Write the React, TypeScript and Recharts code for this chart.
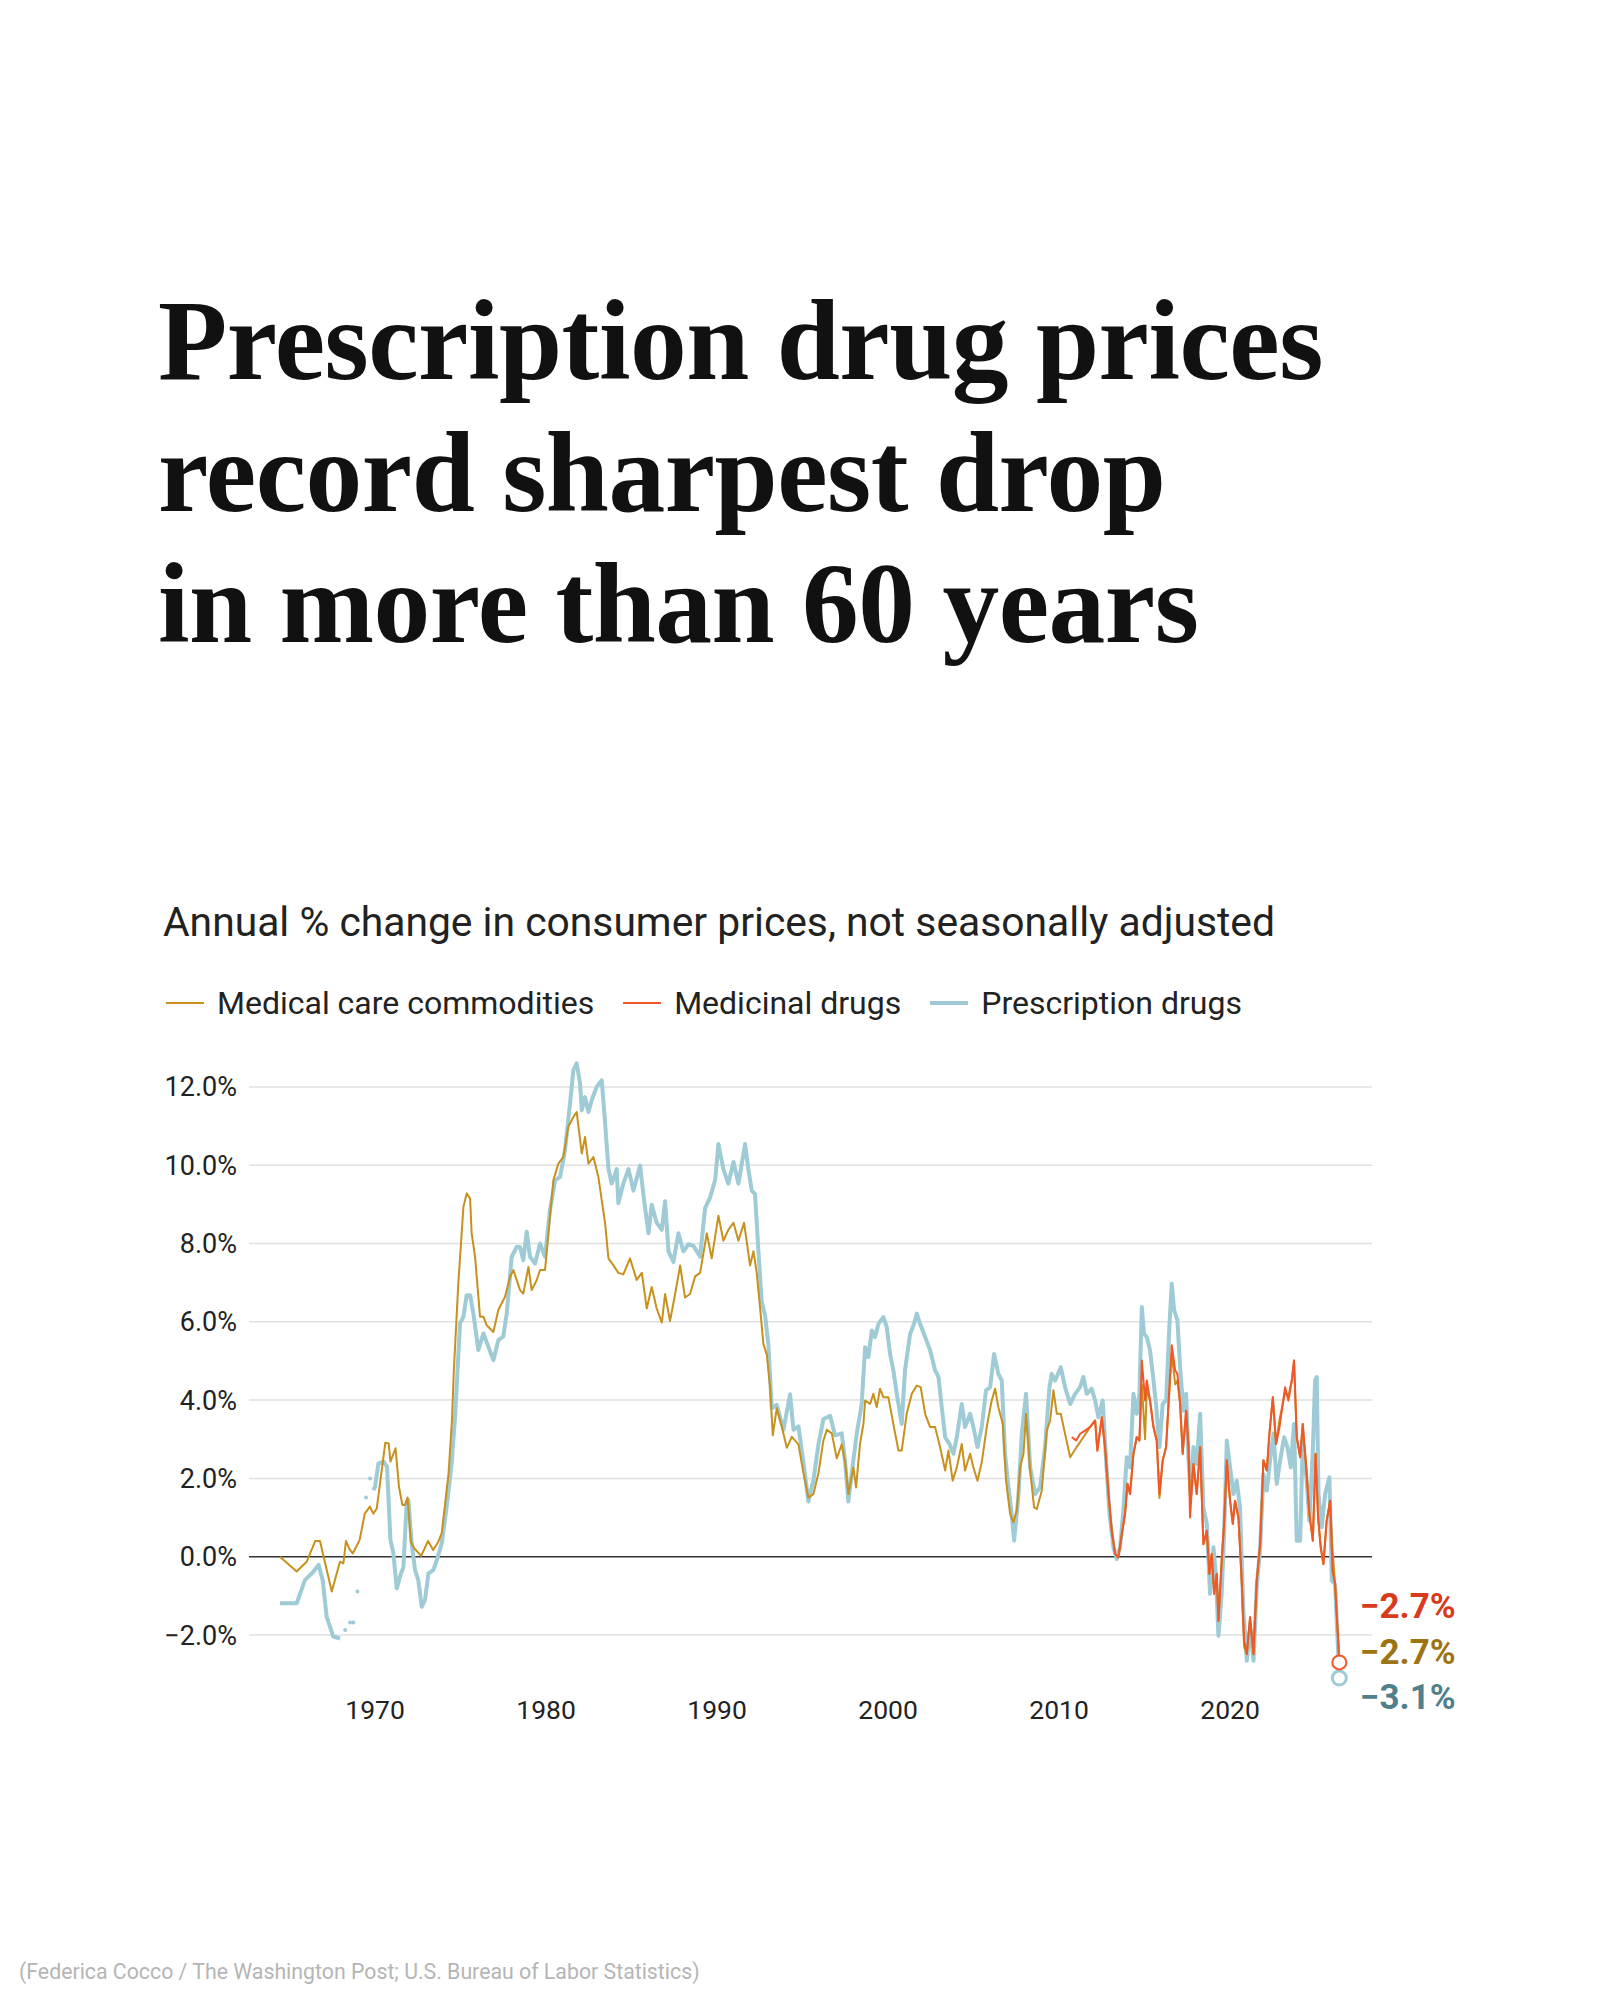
import React from "react";
import { LineChart, Line, XAxis, YAxis, ReferenceLine, ReferenceDot } from "recharts";

// ---------- DATA ----------
const commoditiesYears = [
  1964.44, 1965.42, 1966.0, 1966.5, 1966.78, 1967.47, 1967.95, 1968.15, 1968.3, 1968.5, 1968.7, 1969.1, 1969.4, 1969.7, 1969.9,
  1970.1, 1970.6, 1970.8, 1970.9, 1971.2, 1971.4, 1971.6, 1971.75, 1971.9, 1972.1, 1972.3, 1972.7, 1973.1, 1973.4, 1973.7, 1973.9,
  1974.03, 1974.3, 1974.5, 1974.6, 1974.87, 1975.17, 1975.36, 1975.56, 1975.65, 1975.85, 1976.14, 1976.34, 1976.53, 1976.92,
  1977.21, 1977.6, 1977.9, 1978.09, 1978.48, 1978.67, 1978.97, 1979.16, 1979.45, 1979.65, 1979.94, 1980.14, 1980.43, 1980.72,
  1981.01, 1981.3, 1981.6, 1981.79, 1982.09, 1982.28, 1982.48, 1982.77, 1983.06,
  1983.45, 1983.65, 1983.94, 1984.23, 1984.52, 1984.91, 1985.3, 1985.6, 1985.89, 1986.18, 1986.47, 1986.77, 1986.96, 1987.25,
  1987.55, 1987.84, 1988.13, 1988.42, 1988.72, 1989.01, 1989.4, 1989.69, 1990.08, 1990.37, 1990.66, 1990.96, 1991.25, 1991.58,
  1991.93, 1992.13, 1992.32, 1992.52, 1992.71, 1992.91, 1993.1, 1993.26, 1993.49, 1993.78, 1994.08, 1994.37, 1994.76, 1995.05,
  1995.34, 1995.64, 1995.93, 1996.22, 1996.42, 1996.71, 1997.0, 1997.29, 1997.49, 1997.68,
  1997.97, 1998.13, 1998.36, 1998.56, 1998.66, 1998.95, 1999.14, 1999.34, 1999.53, 1999.73, 2000.02, 2000.31, 2000.61, 2000.8,
  2001.09, 2001.39, 2001.68, 2001.91, 2002.17, 2002.46, 2002.75, 2003.04, 2003.34, 2003.53, 2003.78, 2004.02, 2004.31, 2004.5,
  2004.8, 2004.99, 2005.23, 2005.48, 2005.77, 2006.06, 2006.26, 2006.45, 2006.71, 2006.9, 2007.14, 2007.33, 2007.53, 2007.72,
  2007.92, 2008.07, 2008.31, 2008.54, 2008.7, 2008.99, 2009.28, 2009.48, 2009.67, 2009.87, 2010.1, 2010.35, 2010.65, 2011.03,
  2011.42, 2011.81, 2012.11,
  2012.24, 2012.5, 2012.69, 2012.89, 2013.08, 2013.28, 2013.47, 2013.67, 2013.86, 2014.0, 2014.15, 2014.35, 2014.54, 2014.7,
  2014.84, 2015.03, 2015.13, 2015.32, 2015.52, 2015.71, 2015.87, 2016.06, 2016.26, 2016.4, 2016.59, 2016.79, 2016.92, 2017.08,
  2017.23, 2017.43, 2017.57, 2017.66, 2017.86, 2018.05, 2018.25, 2018.44, 2018.64, 2018.79, 2018.93, 2019.07, 2019.22, 2019.32,
  2019.51, 2019.65, 2019.81, 2020.0, 2020.16, 2020.29, 2020.49, 2020.68, 2020.82, 2020.98, 2021.17, 2021.37, 2021.56, 2021.76,
  2021.95, 2022.15, 2022.3, 2022.5, 2022.69, 2022.89, 2023.08, 2023.22, 2023.41, 2023.61, 2023.74, 2023.9, 2024.1, 2024.25,
  2024.45, 2024.64, 2024.84, 2025.0, 2025.15, 2025.3, 2025.46, 2025.65, 2025.85, 2025.99, 2026.14, 2026.39,
];
const commoditiesValues = [
  0.0, -0.38, -0.13, 0.4, 0.4, -0.89, -0.13, -0.17, 0.4, 0.2, 0.08, 0.43, 1.1, 1.28, 1.1,
  1.23, 2.91, 2.89, 2.43, 2.77, 1.79, 1.32, 1.32, 1.51, 0.38, 0.21, 0.02, 0.4, 0.17, 0.38, 0.6,
  1.1, 2.13, 3.49, 4.68, 6.98, 8.94, 9.28, 9.15, 8.26, 7.66, 6.13, 6.13, 5.91, 5.74,
  6.3, 6.64, 7.15, 7.32, 6.81, 6.72, 7.4, 6.81, 7.06, 7.32, 7.32, 8.26, 9.62, 10.04,
  10.21, 10.98, 11.23, 11.36, 10.3, 10.72, 10.04, 10.21, 9.7,
  8.53, 7.62, 7.44, 7.25, 7.21, 7.62, 7.07, 7.25, 6.34, 6.89, 6.34, 5.98, 6.71, 6.02,
  6.71, 7.44, 6.62, 6.71, 7.16, 7.25, 8.26, 7.62, 8.71, 8.07, 8.35, 8.53, 8.07, 8.53,
  7.44, 7.8, 7.25, 6.34, 5.43, 5.16, 4.33, 3.1, 3.79, 3.33, 2.78, 3.06, 2.87, 2.14,
  1.51, 1.6, 2.14, 2.97, 3.24, 3.15, 2.51, 2.87, 2.42, 1.6,
  2.28, 1.77, 2.88, 3.39, 3.99, 3.9, 4.16, 3.82, 4.29, 4.07, 4.07, 3.39, 2.71, 2.71,
  3.65, 4.16, 4.37, 4.33, 3.65, 3.31, 3.31, 2.8, 2.2, 2.71, 1.94, 2.28, 2.88, 2.2,
  2.63, 2.28, 1.94, 2.41, 3.31, 3.99, 4.29, 3.82, 3.39, 1.94, 1.09, 0.88, 1.18, 2.28,
  2.63, 3.65, 2.2, 1.26, 1.22, 1.69, 3.22, 3.48, 4.25, 3.65, 3.65, 3.14, 2.54, 2.8,
  3.05, 3.31, 3.48,
  2.71, 3.56, 2.8, 1.6, 0.66, 0.07, -0.02, 0.58, 1.09, 1.86, 1.6, 2.63, 3.05, 2.97,
  4.4, 3.0, 4.3, 3.99, 3.31, 2.97, 1.5, 2.46, 2.8, 3.9, 5.2, 4.4, 4.5, 3.9,
  2.63, 3.73, 2.8, 1.5, 2.37, 1.6, 2.8, 0.32, 0.66, -0.44, 0.07, -0.95, -0.44, -1.64,
  -0.1, 0.84, 2.46, 1.43, 0.84, 1.43, 1.0, -0.61, -2.3, -2.49, -1.55, -2.49, -0.61, 0.32,
  2.46, 2.2, 3.14, 4.07, 2.88, 3.5, 3.9, 4.2, 4.1, 4.5, 5.01, 3.05, 2.54, 3.39,
  2.28, 1.09, 0.41, 2.63, 1.0, 0.24, -0.19, 0.92, 1.43, 0.2, -0.7, -2.7,
];

const medicinalYears = [
  2010.74, 2011.0, 2011.23, 2011.52, 2011.81, 2012.11,
  2012.24, 2012.5, 2012.69, 2012.89, 2013.08, 2013.28, 2013.47, 2013.67, 2013.86, 2014.0, 2014.15, 2014.35, 2014.54, 2014.7,
  2014.84, 2015.03, 2015.13, 2015.32, 2015.52, 2015.71, 2015.87, 2016.06, 2016.26, 2016.4, 2016.59, 2016.79, 2016.92, 2017.08,
  2017.23, 2017.43, 2017.57, 2017.66, 2017.86, 2018.05, 2018.25, 2018.44, 2018.64, 2018.79, 2018.93, 2019.07, 2019.22, 2019.32,
  2019.51, 2019.65, 2019.81, 2020.0, 2020.16, 2020.29, 2020.49, 2020.68, 2020.82, 2020.98, 2021.17, 2021.37, 2021.56, 2021.76,
  2021.95, 2022.15, 2022.3, 2022.5, 2022.69, 2022.89, 2023.08, 2023.22, 2023.41, 2023.61, 2023.74, 2023.9, 2024.1, 2024.25,
  2024.45, 2024.64, 2024.84, 2025.0, 2025.15, 2025.3, 2025.46, 2025.65, 2025.85, 2025.99, 2026.14, 2026.39,
];
const medicinalValues = [
  3.05, 2.97, 3.14, 3.22, 3.31, 3.48,
  2.71, 3.56, 2.8, 1.6, 0.66, 0.07, -0.02, 0.58, 1.09, 1.86, 1.6, 2.63, 3.05, 2.97,
  5.01, 3.99, 4.5, 3.99, 3.31, 2.97, 1.6, 2.46, 2.8, 3.9, 5.4, 4.76, 4.67, 3.9,
  2.63, 3.73, 2.8, 1.0, 2.37, 1.6, 2.8, 0.32, 0.66, -0.44, 0.07, -0.95, -0.44, -1.64,
  -0.1, 0.84, 2.46, 1.43, 0.84, 1.43, 1.0, -0.61, -2.15, -2.49, -1.55, -2.49, -0.61, 0.32,
  2.46, 2.2, 3.14, 4.07, 2.88, 3.31, 3.9, 4.33, 3.99, 4.5, 5.01, 3.05, 2.54, 3.39,
  2.28, 1.09, 0.41, 2.63, 1.0, 0.24, -0.19, 0.92, 1.43, -0.36, -0.7, -2.7,
];

const prescriptionYears = [
  1964.44, 1965.42, 1965.9, 1966.4, 1966.7, 1966.94, 1967.17, 1967.56, 1967.95,
  1968.1, 1968.25, 1968.4, 1968.54, 1968.63, 1968.73, 1968.85, 1968.97, 1969.2, 1969.47, 1969.6, 1969.71, 1969.8,
  1969.9, 1970.0, 1970.2, 1970.5, 1970.7, 1970.9, 1971.07, 1971.27, 1971.46, 1971.66, 1971.85, 1971.95, 1972.14, 1972.34,
  1972.53, 1972.73, 1972.92, 1973.12, 1973.41, 1973.61, 1973.9, 1974.19, 1974.48, 1974.68, 1974.97, 1975.17, 1975.36, 1975.56,
  1975.75, 1976.04, 1976.34, 1976.63, 1976.92, 1977.21, 1977.5, 1977.7, 1977.99, 1978.28, 1978.48, 1978.67, 1978.87, 1979.06,
  1979.36, 1979.65, 1979.94, 1980.23, 1980.53, 1980.82, 1981.11, 1981.4, 1981.6, 1981.79, 1981.99, 1982.09, 1982.28, 1982.48,
  1982.67, 1982.96, 1983.26, 1983.45, 1983.65,
  1983.84, 1984.13, 1984.23, 1984.52, 1984.82, 1985.11, 1985.5, 1985.69, 1985.99, 1986.18, 1986.47, 1986.77, 1986.96, 1987.16,
  1987.45, 1987.74, 1988.03, 1988.33, 1988.62, 1989.01, 1989.3, 1989.59, 1989.89, 1990.08, 1990.37, 1990.66, 1990.96, 1991.25,
  1991.64, 1991.83, 1992.03, 1992.22, 1992.42, 1992.61, 1992.81, 1993.0, 1993.2, 1993.49, 1993.88, 1994.27, 1994.47, 1994.76,
  1995.05, 1995.34, 1995.64, 1995.93, 1996.22, 1996.61, 1996.9, 1997.29, 1997.49, 1997.68,
  1997.97, 1998.17, 1998.46, 1998.66, 1998.85, 1999.05, 1999.24, 1999.44, 1999.73, 1999.92, 2000.12, 2000.31, 2000.51, 2000.7,
  2000.8, 2000.99, 2001.29, 2001.52, 2001.68, 2001.87, 2002.17, 2002.46, 2002.75, 2002.95, 2003.14, 2003.34, 2003.59, 2003.82,
  2004.02, 2004.31, 2004.5, 2004.8, 2004.99, 2005.23, 2005.48, 2005.73, 2005.97, 2006.2, 2006.45, 2006.65, 2006.84, 2007.04,
  2007.23, 2007.37, 2007.62, 2007.82, 2008.07, 2008.31, 2008.6, 2008.89, 2009.18, 2009.44, 2009.57, 2009.77, 2010.1, 2010.35,
  2010.65, 2010.94,
  2011.23, 2011.42, 2011.62, 2011.91, 2012.11, 2012.3, 2012.55, 2012.75, 2012.95, 2013.18, 2013.37, 2013.57, 2013.76, 2013.96,
  2014.15, 2014.35, 2014.54, 2014.7, 2014.84, 2014.97, 2015.13, 2015.32, 2015.48, 2015.67, 2015.87, 2016.06, 2016.26, 2016.45,
  2016.59, 2016.73, 2016.92, 2017.08, 2017.27, 2017.43, 2017.57, 2017.7, 2017.86, 2018.05, 2018.25, 2018.44, 2018.64, 2018.83,
  2019.03, 2019.18, 2019.32, 2019.51, 2019.65, 2019.81, 2020.0, 2020.2, 2020.39, 2020.58, 2020.78, 2020.98, 2021.17, 2021.37,
  2021.56, 2021.76, 2021.95, 2022.15, 2022.34, 2022.54, 2022.73, 2022.93, 2023.16, 2023.36, 2023.55, 2023.74, 2023.9, 2024.1,
  2024.25, 2024.45, 2024.64, 2024.84, 2024.97, 2025.07, 2025.17, 2025.36, 2025.56, 2025.81, 2025.95, 2026.14, 2026.39,
];
const prescriptionValues: (number | null)[] = [
  -1.19, -1.19, -0.6, -0.38, -0.21, -0.6, -1.53, -2.04, -2.09,
  null, -1.87, null, -1.68, null, -1.68, null, -0.89, null, 1.51, null, 2.0, null,
  1.7, 1.79, 2.38, 2.43, 2.3, 0.43, 0.09, -0.81, -0.51, -0.26, 1.36, 1.45, 0.34, -0.34,
  -0.6, -1.28, -1.11, -0.43, -0.34, -0.09, 0.34, 1.28, 2.38, 3.57, 5.96, 6.13, 6.68, 6.68,
  6.21, 5.28, 5.7, 5.36, 5.02, 5.53, 5.62, 6.21, 7.66, 7.91, 7.91, 7.57, 8.3, 7.66,
  7.49, 8.0, 7.66, 8.85, 9.62, 9.7, 10.38, 11.57, 12.43, 12.6, 12.09, 11.4, 11.74, 11.36,
  11.66, 12.0, 12.17, 11.09, 9.9,
  9.53, 9.9, 9.03, 9.53, 9.9, 9.35, 9.99, 9.26, 8.26, 8.99, 8.53, 8.35, 9.08, 7.8,
  7.53, 8.26, 7.8, 7.98, 7.94, 7.66, 8.9, 9.17, 9.63, 10.54, 9.9, 9.53, 10.08, 9.53,
  10.54, 9.9, 9.35, 9.26, 7.8, 6.52, 6.16, 5.43, 3.79, 3.88, 3.24, 4.15, 3.24, 3.33,
  2.42, 1.41, 1.96, 2.87, 3.51, 3.6, 3.1, 3.15, 2.42, 1.41,
  2.46, 3.14, 3.9, 5.35, 5.1, 5.78, 5.61, 5.95, 6.12, 5.87, 5.18, 4.76, 4.16, 3.65,
  3.39, 4.76, 5.69, 5.95, 6.21, 5.95, 5.61, 5.27, 4.76, 4.59, 3.82, 3.05, 2.88, 2.63,
  3.05, 3.9, 3.31, 3.65, 3.31, 2.8, 3.31, 4.25, 4.33, 5.18, 4.67, 4.5, 2.63, 1.77,
  1.09, 0.41, 1.52, 3.14, 4.16, 2.28, 1.6, 1.77, 2.8, 4.33, 4.67, 4.5, 4.84, 4.33,
  3.9, 4.16,
  4.33, 4.59, 4.16, 4.29, 3.99, 3.56, 3.99, 2.46, 1.09, 0.24, -0.06, 0.24, 1.18, 2.54,
  2.28, 4.16, 3.65, 4.16, 6.38, 5.69, 5.61, 5.27, 4.67, 3.9, 2.8, 3.9, 3.99, 5.87,
  6.97, 6.29, 6.04, 4.84, 3.73, 4.16, 2.46, 1.6, 2.8, 2.37, 3.65, 1.26, 0.84, -0.95,
  0.24, -0.53, -2.02, -0.95, 0.58, 2.97, 2.28, 1.6, 1.94, 1.26, -1.38, -2.66, -1.81, -2.66,
  -0.78, 0.24, 2.11, 1.69, 2.46, 3.14, 1.86, 2.46, 3.05, 2.8, 2.28, 3.39, 0.41, 0.41,
  2.97, 2.11, 0.92, 2.71, 4.5, 4.59, 1.6, 0.75, 1.6, 2.03, -0.61, -0.7, -3.1,
];

const yTicks = [-2, 0, 2, 4, 6, 8, 10, 12];
const xTicks = [1970, 1980, 1990, 2000, 2010, 2020];

const titleLines = ["Prescription drug prices", "record sharpest drop", "in more than 60 years"];
const subtitle = "Annual % change in consumer prices, not seasonally adjusted";
const legendItems = [
  { name: "Medical care commodities", key: "commodities" },
  { name: "Medicinal drugs", key: "medicinal" },
  { name: "Prescription drugs", key: "prescription" },
];
const endLabels = [
  { text: "\u22122.7%", key: "medicinal" },
  { text: "\u22122.7%", key: "commodities" },
  { text: "\u22123.1%", key: "prescription" },
];
const credit = "(Federica Cocco / The Washington Post; U.S. Bureau of Labor Statistics)";

// ---------- STYLE ----------
const GOLD = "#c8901c";
const RED = "#f0582a";
const BLUE = "#9ecbd5";
const lineColors: Record<string, string> = { commodities: GOLD, medicinal: RED, prescription: BLUE };
const lineWidths: Record<string, number> = { commodities: 2, medicinal: 2, prescription: 4 };
const labelColors: Record<string, string> = { commodities: "#9c7414", medicinal: "#d83a1c", prescription: "#4f808c" };
const SANS = "Roboto, 'Noto Sans', sans-serif";

const zip = (ys: number[], vs: (number | null)[]) => ys.map((year, i) => ({ year, value: vs[i] }));
const commoditiesData = zip(commoditiesYears, commoditiesValues);
const medicinalData = zip(medicinalYears, medicinalValues);
const prescriptionData = zip(prescriptionYears, prescriptionValues);

const isolatedIdx = new Set<number>();
prescriptionValues.forEach((v, i) => {
  const prev = i === 0 ? null : prescriptionValues[i - 1];
  const next = i === prescriptionValues.length - 1 ? null : prescriptionValues[i + 1];
  if (v !== null && prev === null && next === null) isolatedIdx.add(i);
});

const renderIsoDot = (p: any) => {
  if (isolatedIdx.has(p.index) && p.cx != null && p.cy != null) {
    return <circle key={`iso-${p.index}`} cx={p.cx} cy={p.cy} r={2} fill={BLUE} />;
  }
  return <g key={`iso-${p.index}`} />;
};

const fmtY = (v: number) => (v < 0 ? `\u2212${Math.abs(v).toFixed(1)}%` : `${v.toFixed(1)}%`);

const lastMed = medicinalData[medicinalData.length - 1];
const lastRx = prescriptionData[prescriptionData.length - 1];

export default function App() {
  return (
    <div style={{ position: "absolute", left: 0, top: 0, width: 1600, height: 2000, background: "#fff", overflow: "hidden" }}>
      {/* Title */}
      <div
        style={{
          position: "absolute",
          left: 158,
          top: 276,
          fontFamily: "'Liberation Serif', 'Times New Roman', serif",
          fontWeight: 700,
          fontSize: 113.5,
          lineHeight: "131.5px",
          color: "#111",
          letterSpacing: -0.5,
          whiteSpace: "nowrap",
        }}
      >
        {titleLines.map((t) => (
          <div key={t}>{t}</div>
        ))}
      </div>

      {/* Subtitle */}
      <div
        style={{
          position: "absolute",
          left: 163,
          top: 897,
          fontFamily: SANS,
          fontSize: 40.8,
          lineHeight: "50px",
          color: "#222",
          whiteSpace: "nowrap",
        }}
      >
        {subtitle}
      </div>

      {/* Legend */}
      <div
        style={{
          position: "absolute",
          left: 166,
          top: 982,
          height: 42,
          display: "flex",
          alignItems: "center",
          fontFamily: SANS,
          fontSize: 32,
          color: "#222",
          whiteSpace: "nowrap",
        }}
      >
        {legendItems.map((it) => (
          <div key={it.key} style={{ display: "flex", alignItems: "center", marginRight: 29 }}>
            <div style={{ width: 38, height: lineWidths[it.key], background: lineColors[it.key], marginRight: 13 }} />
            <span>{it.name}</span>
          </div>
        ))}
      </div>

      {/* Chart */}
      <div style={{ position: "absolute", left: 0, top: 1000 }}>
        <LineChart width={1600} height={760} margin={{ top: 47.75, right: 228, bottom: 26.3, left: 0 }}>
          <XAxis
            type="number"
            dataKey="year"
            domain={[1962.63, 2028.3]}
            ticks={xTicks}
            allowDataOverflow
            axisLine={false}
            tickLine={false}
            height={40}
            tickMargin={0}
            tick={{ fill: "#222", fontSize: 26.5, fontFamily: SANS }}
          />
          <YAxis
            type="number"
            domain={[-3.5, 13]}
            ticks={yTicks}
            allowDataOverflow
            axisLine={false}
            tickLine={false}
            width={249}
            tickMargin={6}
            tickFormatter={fmtY}
            tick={{ fill: "#222", fontSize: 27, fontFamily: SANS }}
          />
          {yTicks
            .filter((t) => t !== 0)
            .map((t) => (
              <ReferenceLine key={`g${t}`} y={t} stroke="#e0e0e0" strokeWidth={1.5} />
            ))}
          <ReferenceLine y={0} stroke="#333" strokeWidth={1.5} />
          <Line
            data={prescriptionData}
            dataKey="value"
            type="linear"
            stroke={BLUE}
            strokeWidth={4}
            dot={renderIsoDot}
            activeDot={false}
            connectNulls={false}
            isAnimationActive={false}
            strokeLinejoin="round"
          />
          <Line
            data={commoditiesData}
            dataKey="value"
            type="linear"
            stroke={GOLD}
            strokeWidth={2}
            dot={false}
            activeDot={false}
            isAnimationActive={false}
            strokeLinejoin="round"
          />
          <Line
            data={medicinalData}
            dataKey="value"
            type="linear"
            stroke={RED}
            strokeWidth={2}
            dot={false}
            activeDot={false}
            isAnimationActive={false}
            strokeLinejoin="round"
          />
          <ReferenceDot x={lastRx.year} y={lastRx.value as number} r={7} fill="#fff" stroke={BLUE} strokeWidth={3} ifOverflow="visible" />
          <ReferenceDot x={lastMed.year} y={lastMed.value} r={7} fill="#fff" stroke={RED} strokeWidth={2} ifOverflow="visible" />
        </LineChart>
      </div>

      {/* End labels */}
      {endLabels.map((l, i) => (
        <div
          key={l.key}
          style={{
            position: "absolute",
            left: 1360,
            top: 1607 + i * 45.5 - 22,
            height: 44,
            lineHeight: "44px",
            fontFamily: SANS,
            fontWeight: 700,
            fontSize: 35,
            color: labelColors[l.key],
            whiteSpace: "nowrap",
          }}
        >
          {l.text}
        </div>
      ))}

      {/* Credit */}
      <div
        style={{
          position: "absolute",
          left: 19,
          top: 1959,
          fontFamily: SANS,
          fontSize: 21.3,
          lineHeight: "26px",
          color: "#b5b5b5",
          whiteSpace: "nowrap",
        }}
      >
        {credit}
      </div>
    </div>
  );
}
